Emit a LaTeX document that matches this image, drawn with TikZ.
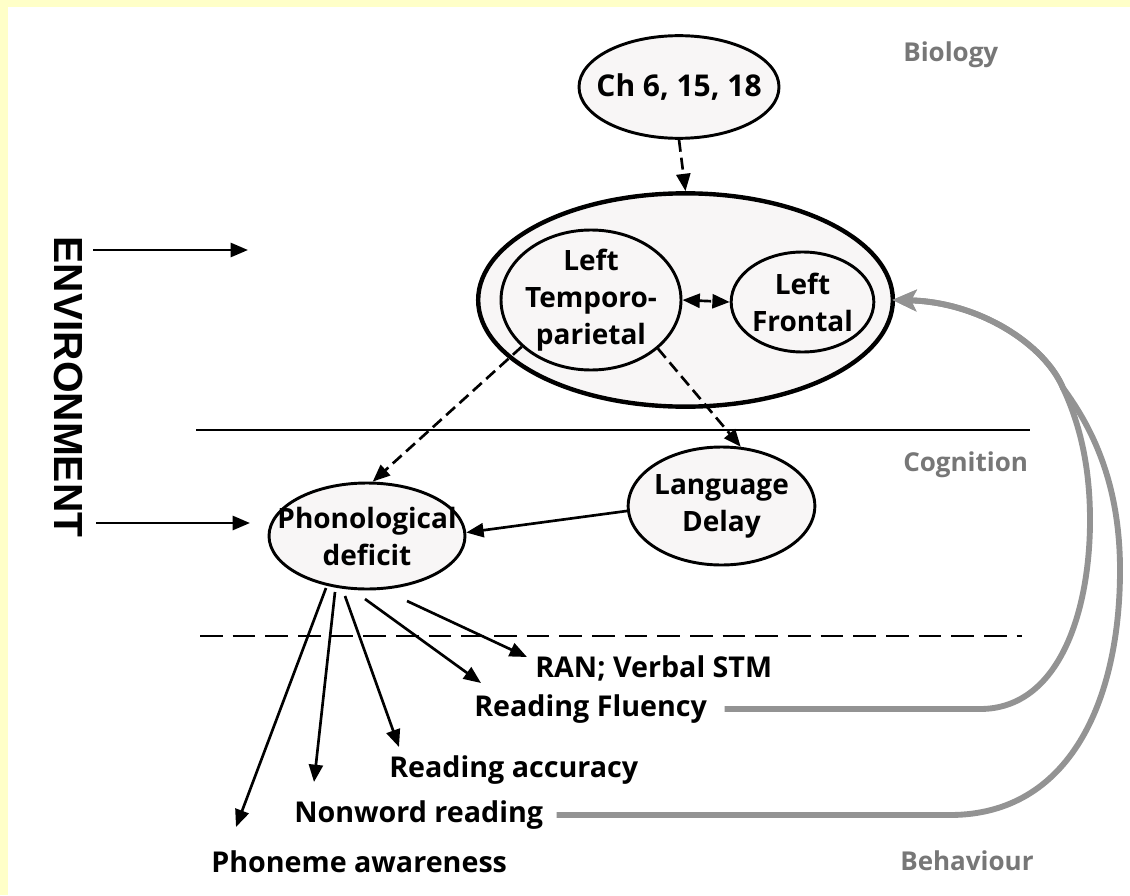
\documentclass[tikz,border=0pt]{standalone}
\usepackage{fontspec}
\setmainfont{Open Sans}
\newfontfamily\envfont{Liberation Sans}
\usetikzlibrary{arrows.meta,shapes.geometric,calc}
\definecolor{bgyellow}{HTML}{FFFFC8}
\definecolor{ovalfill}{HTML}{F8F6F6}
\definecolor{levelgray}{HTML}{777777}
\definecolor{loopgray}{HTML}{939393}
\begin{document}
\begin{tikzpicture}[x=0.75pt,y=-0.75pt,
  oval/.style={ellipse, draw, line width=2.2pt, fill=ovalfill, inner sep=0pt},
  ovaltext/.style={align=center, inner sep=0pt, font=\bfseries\fontsize{21}{27.75}\selectfont},
  outcome/.style={anchor=west, inner sep=0pt, font=\bfseries\fontsize{21.5}{24}\selectfont},
  level/.style={anchor=west, inner sep=0pt, text=levelgray, font=\bfseries\fontsize{19.5}{22}\selectfont},
  tip/.tip={Triangle[length=13pt,width=10.5pt]},
  arr/.style={line width=2pt, -tip},
  darr/.style={arr, dash pattern=on 9pt off 4.5pt},
  loopline/.style={line width=4.4pt, draw=loopgray, -{Stealth[length=18pt,width=16pt,inset=4pt]}, shorten >=-2pt}
]
% page and frame
\useasboundingbox (0,0) rectangle (1130,895);
\fill[bgyellow] (0,0) rectangle (1130,895);
\fill[white] (8,7) rectangle (1130,895);

% level separators
\draw[line width=1.9pt] (196,430) -- (1030,430);
\draw[line width=1.9pt, dash pattern=on 17pt off 7.5pt] (200,636) -- (1022,636);

% level names
\node[level] (bio) at (903,55) {Biology};
\node[level] (cog) at (903,465) {Cognition};
\node[level] (beh) at (900,861) {Behaviour};

% environment
\node[rotate=-90, inner sep=0pt, font=\envfont\bfseries\fontsize{30.5}{30.5}\selectfont] (env) at (68,387) {ENVIRONMENT};
\coordinate (e1s) at (93,250);
\coordinate (e1t) at (248,250);
\coordinate (e2s) at (96,523);
\coordinate (e2t) at (250,523);

% biology
\node[oval, minimum width=150pt, minimum height=77pt,
      label={[ovaltext, font=\bfseries\fontsize{22.5}{27.75}\selectfont]center:Ch 6, 15, 18}] (ch) at (679,87) {};
\node[oval, line width=3.3pt, minimum width=311pt, minimum height=160pt] (brain) at (685.5,300) {};
\node[oval, minimum width=135pt, minimum height=105pt,
      label={[ovaltext]center:Left\\Temporo-\\parietal}] (ltp) at (591,300) {};
\node[oval, minimum width=107pt, minimum height=75pt,
      label={[ovaltext]center:Left\\Frontal}] (lf) at (802.5,302) {};

% cognition
\node[oval, minimum width=147pt, minimum height=79.5pt,
      label={[ovaltext]center:Phonological\\deficit}] (pd) at (367,536) {};
\node[oval, minimum width=140pt, minimum height=88.5pt,
      label={[ovaltext]center:Language\\Delay}] (ld) at (721.5,506) {};

% behaviour
\node[outcome] (ran) at (535,668) {RAN; Verbal STM};
\node[outcome] (flu) at (474,709) {Reading Fluency};
\node[outcome] (acc) at (389,770) {Reading accuracy};
\node[outcome] (nw)  at (294,815) {Nonword reading};
\node[outcome] (pa)  at (211,862) {Phoneme awareness};

\coordinate (t1) at (236,827);
\coordinate (t2) at (314,782);
\coordinate (t3) at (399,747);
\coordinate (t4) at (481,683);
\coordinate (t5) at (527,657);

% connectors
\draw[arr] (e1s) -- (e1t);
\draw[arr] (e2s) -- (e2t);
\draw[darr] (ch.south) -- (brain.north);
\draw[darr, tip-tip] (ltp.east) -- (lf.west);
\draw[darr] (ltp.-146) -- (pd.84);
\draw[darr] (ltp.-36) -- (ld.72);
\draw[arr] (ld.183) -- (pd.2);

\draw[arr] ([shift={(-41,52)}]pd.center) -- (t1);
\draw[arr] ([shift={(-32,56)}]pd.center) -- (t2);
\draw[arr] ([shift={(-22,60)}]pd.center) -- (t3);
\draw[arr] ([shift={(-2,63)}]pd.center) -- (t4);
\draw[arr] ([shift={(40,65)}]pd.center) -- (t5);

% feedback from behaviour to the frontal region
\coordinate (merge) at (1063,388);
\draw[loopline] ([xshift=13pt]flu.east) -- (980,709)
  .. controls (1060,709) and (1090,610) .. (1090,520)
  .. controls (1090,462) and (1078,420) .. (merge)
  .. controls (1045,345) and (980,302) .. (brain.east);
\draw[loopline] ([xshift=10pt]nw.east) -- (950,815)
  .. controls (1070,815) and (1120,700) .. (1120,570)
  .. controls (1120,480) and (1090,425) .. (merge)
  .. controls (1045,345) and (980,302) .. (brain.east);
\end{tikzpicture}
\end{document}
